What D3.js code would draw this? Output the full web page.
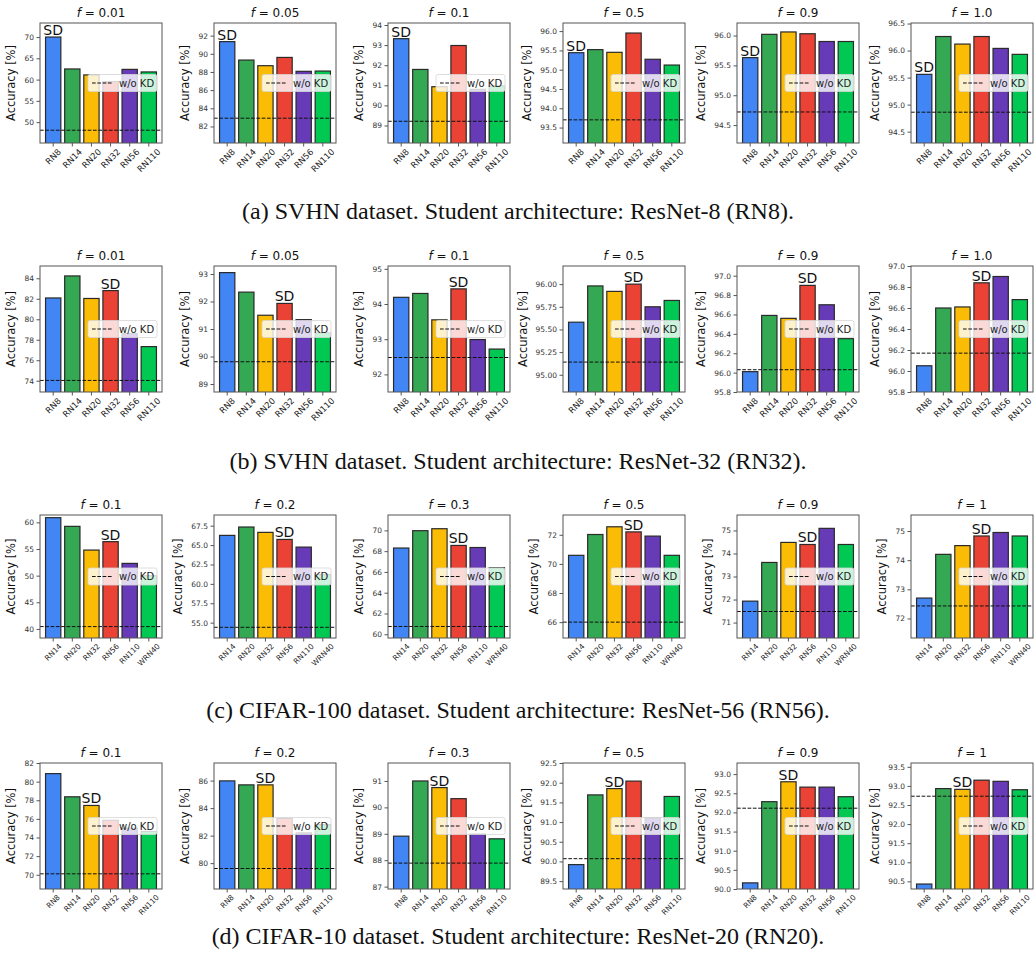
<!DOCTYPE html>
<html>
<head>
<meta charset="utf-8">
<script src="https://cdn.jsdelivr.net/npm/d3@7"></script>
<style>
	html, body { margin: 0; padding: 0; background: #fff; }
	svg { display: block; }
</style>
</head>
<body>
<div id="chart"></div>
<script>
// ---- data ----
const captions = [
	'(a) SVHN dataset. Student architecture: ResNet-8 (RN8).',
	'(b) SVHN dataset. Student architecture: ResNet-32 (RN32).',
	'(c) CIFAR-100 dataset. Student architecture: ResNet-56 (RN56).',
	'(d) CIFAR-10 dataset. Student architecture: ResNet-20 (RN20).'
];
const teachersResNet = ['RN8', 'RN14', 'RN20', 'RN32', 'RN56', 'RN110'];
const teachersCifar100 = ['RN14', 'RN20', 'RN32', 'RN56', 'RN110', 'WRN40'];
const fSvhn = ['0.01', '0.05', '0.1', '0.5', '0.9', '1.0'];
const fCifar = ['0.1', '0.2', '0.3', '0.5', '0.9', '1'];
const studentIndex = [0, 3, 3, 2];

// accuracy per panel, one value per teacher
const accA = [
	[70.0, 62.5, 61.1, 59.5, 62.4, 61.8],
	[91.34, 89.31, 88.69, 89.6, 88.07, 88.1],
	[93.32, 91.79, 90.93, 92.98, 90.8, 90.97],
	[95.44, 95.52, 95.45, 95.95, 95.27, 95.12],
	[95.63, 96.02, 96.06, 96.03, 95.9, 95.9],
	[95.56, 96.26, 96.12, 96.26, 96.04, 95.93]
];
const accB = [
	[82.08, 84.23, 82.03, 82.8, 78.6, 77.33],
	[93.05, 92.34, 91.5, 91.93, 91.34, 90.86],
	[94.19, 94.3, 93.55, 94.43, 92.99, 92.72],
	[95.58, 95.98, 95.92, 96.0, 95.75, 95.82],
	[96.01, 96.59, 96.56, 96.9, 96.7, 96.35],
	[96.05, 96.6, 96.61, 96.84, 96.9, 96.68]
];
const accC = [
	[60.88, 59.25, 54.8, 56.38, 52.3, 50.0],
	[66.25, 67.33, 66.64, 65.73, 64.74, 61.2],
	[68.3, 69.97, 70.16, 68.55, 68.35, 66.4],
	[70.59, 72.02, 72.55, 72.2, 71.91, 70.59],
	[71.93, 73.61, 74.48, 74.39, 75.09, 74.39],
	[72.7, 74.2, 74.5, 74.83, 74.95, 74.83]
];
const accD = [
	[80.86, 78.37, 77.44, 75.85, 75.0, 74.65],
	[85.98, 85.69, 85.69, 83.25, 82.2, 82.8],
	[88.91, 91.0, 90.75, 90.33, 88.99, 88.81],
	[89.92, 91.69, 91.85, 92.04, 91.1, 91.65],
	[90.16, 92.28, 92.8, 92.66, 92.66, 92.41],
	[90.43, 92.93, 92.91, 93.15, 93.12, 92.9]
];
// w/o KD baseline per panel
const baseA = [48.1, 82.91, 89.21, 93.7, 94.72, 94.86];
const baseB = [74.03, 89.81, 92.48, 95.14, 96.03, 96.17];
const baseC = [40.44, 54.4, 60.75, 66.0, 71.48, 72.43];
const baseD = [70.1, 79.61, 87.89, 90.07, 92.11, 92.73];

// y limits and ticks [first, last, step]
const yLimA = [[45.1, 73.3], [80.18, 93.39], [88.13, 94.1], [93.1, 96.21], [94.2, 96.21], [94.29, 96.51]];
const yLimB = [[72.9, 85.2], [88.71, 93.29], [91.5, 95.08], [94.81, 96.2], [95.8, 97.1], [95.8, 97.0]];
const yLimC = [[38.3, 61.38], [53.02, 68.88], [59.64, 71.48], [64.91, 73.36], [70.33, 75.67], [71.33, 75.55]];
const yLimD = [[68.47, 82.0], [78.12, 87.28], [86.91, 91.68], [89.3, 92.5], [90.0, 93.29], [90.3, 93.6]];
const yTickA = [[50, 70, 5], [82, 92, 2], [89, 94, 1], [93.5, 96, 0.5], [94.5, 96, 0.5], [94.5, 96.5, 0.5]];
const yTickB = [[74, 84, 2], [89, 93, 1], [92, 95, 1], [95, 96, 0.25], [95.8, 97, 0.2], [95.8, 97, 0.2]];
const yTickC = [[40, 60, 5], [55, 67.5, 2.5], [60, 70, 2], [66, 72, 2], [71, 75, 1], [72, 75, 1]];
const yTickD = [[70, 82, 2], [80, 86, 2], [87, 91, 1], [89.5, 92.5, 0.5], [90, 93, 0.5], [90.5, 93.5, 0.5]];
const yDigitsA = [0, 0, 0, 1, 1, 1];
const yDigitsB = [0, 0, 0, 2, 1, 1];
const yDigitsC = [0, 1, 0, 0, 0, 0];
const yDigitsD = [0, 0, 0, 1, 1, 1];

const barColors = ['#4285f4', '#34a853', '#fbbc05', '#ea4335', '#673ab7', '#00c853'];

// ---- layout ----
const W = 1034, H = 970;
const panelLefts = [40, 214, 388, 563, 737, 911];
const panelWidth = 122;
const rowTops = [23, 266, 515, 763];
const rowHeights = [120, 126, 123, 126];
const captionY = [219, 469, 718, 944];
const xLabelSize = [8.5, 8.5, 7.5, 7.5];

const rows = [
	{acc: accA, base: baseA, lim: yLimA, ticks: yTickA, digits: yDigitsA, f: fSvhn, teachers: teachersResNet},
	{acc: accB, base: baseB, lim: yLimB, ticks: yTickB, digits: yDigitsB, f: fSvhn, teachers: teachersResNet},
	{acc: accC, base: baseC, lim: yLimC, ticks: yTickC, digits: yDigitsC, f: fCifar, teachers: teachersCifar100},
	{acc: accD, base: baseD, lim: yLimD, ticks: yTickD, digits: yDigitsD, f: fCifar, teachers: teachersResNet}
];

const svg = d3.select('#chart')
	.append('svg')
	.attr('width', W)
	.attr('height', H)
	.style('font-family', '"DejaVu Sans", sans-serif');

svg.append('rect').attr('width', W).attr('height', H).attr('fill', '#fff');

const _drawPanel = (opts) => {
	const {g, w, h, teachers, values, base, lim, tick, digits, fLabel, student, xFont} = opts;

	const x = d3.scaleBand()
		.domain(teachers)
		.range([0, w])
		.paddingInner(0.2)
		.paddingOuter(0.29);
	const y = d3.scaleLinear().domain(lim).range([h, 0]);
	const tickValues = d3.range(tick[0], tick[1] + tick[2] / 2, tick[2]);

	const clip = 'clip-' + Math.random().toString(36).slice(2);
	g.append('clipPath').attr('id', clip)
		.append('rect').attr('width', w).attr('height', h);

	const plot = g.append('g').attr('clip-path', `url(#${clip})`);

	plot.selectAll('.bar')
		.data(values)
		.enter()
		.append('rect')
		.attr('class', 'bar')
		.attr('x', (d, i) => x(teachers[i]))
		.attr('y', d => y(d))
		.attr('width', x.bandwidth())
		.attr('height', d => h - y(d) + 2)
		.attr('fill', (d, i) => barColors[i])
		.attr('stroke', '#2a2a2a')
		.attr('stroke-width', 1.2);

	plot.append('line')
		.attr('x1', 0).attr('x2', w)
		.attr('y1', y(base)).attr('y2', y(base))
		.attr('stroke', '#111')
		.attr('stroke-width', 1)
		.attr('stroke-dasharray', '3.7,1.6');

	// SD marker over the student bar
	g.append('text')
		.attr('x', x(teachers[student]) + x.bandwidth() / 2)
		.attr('y', y(values[student]) - 2)
		.attr('text-anchor', 'middle')
		.attr('font-size', 14)
		.attr('fill', '#111')
		.text('SD');

	// legend
	const lw = 69, lh = 17;
	const leg = g.append('g').attr('transform', `translate(${w - 5 - lw}, ${h / 2 - lh / 2})`);
	leg.append('rect')
		.attr('width', lw).attr('height', lh).attr('rx', 2)
		.attr('fill', '#fff').attr('fill-opacity', 0.8)
		.attr('stroke', '#d6d6d6').attr('stroke-width', 0.8);
	leg.append('line')
		.attr('x1', 4).attr('x2', 24)
		.attr('y1', lh / 2).attr('y2', lh / 2)
		.attr('stroke', '#111').attr('stroke-width', 1)
		.attr('stroke-dasharray', '3.7,1.6');
	leg.append('text')
		.attr('x', 31).attr('y', lh / 2)
		.attr('dominant-baseline', 'central')
		.attr('font-size', 10)
		.attr('fill', '#222')
		.text('w/o KD');

	// frame
	g.append('rect')
		.attr('width', w).attr('height', h)
		.attr('fill', 'none')
		.attr('stroke', '#555')
		.attr('stroke-width', 1);

	// y axis
	const yAxis = g.append('g')
		.call(d3.axisLeft(y)
			.tickValues(tickValues)
			.tickFormat(d3.format(`.${digits}f`))
			.tickSize(3.5)
			.tickPadding(2.5)
			.tickSizeOuter(0));
	yAxis.select('.domain').remove();
	yAxis.selectAll('line').attr('stroke', '#555');
	yAxis.selectAll('text')
		.attr('font-size', 7.5)
		.attr('font-family', '"DejaVu Sans", sans-serif')
		.attr('fill', '#333');
	let maxTickW = 0;
	yAxis.selectAll('text').each(function() {
		maxTickW = Math.max(maxTickW, this.getComputedTextLength());
	});

	// x ticks and rotated labels
	const xTicks = g.append('g').attr('transform', `translate(0, ${h})`);
	xTicks.selectAll('line')
		.data(teachers)
		.enter()
		.append('line')
		.attr('x1', d => x(d) + x.bandwidth() / 2)
		.attr('x2', d => x(d) + x.bandwidth() / 2)
		.attr('y1', 0).attr('y2', 3.5)
		.attr('stroke', '#555');
	xTicks.selectAll('text')
		.data(teachers)
		.enter()
		.append('text')
		.attr('font-size', xFont)
		.attr('fill', '#222')
		.attr('text-anchor', 'middle')
		.attr('dominant-baseline', 'central')
		.text(d => d)
		.each(function(d) {
			const len = this.getComputedTextLength();
			const half = (len + xFont * 0.75) / (2 * Math.SQRT2);
			const cx = x(d) + x.bandwidth() / 2;
			const cy = 5 + half;
			d3.select(this).attr('transform', `translate(${cx}, ${cy}) rotate(-45)`);
		});

	// y label, pushed out past the widest tick label
	g.append('text')
		.attr('transform', `translate(${-(maxTickW + 19)}, ${h / 2}) rotate(-90)`)
		.attr('text-anchor', 'middle')
		.attr('dominant-baseline', 'central')
		.attr('font-size', 11.5)
		.attr('fill', '#111')
		.text('Accuracy [%]');

	// title
	const title = g.append('text')
		.attr('x', w / 2)
		.attr('y', -6)
		.attr('text-anchor', 'middle')
		.attr('font-size', 12)
		.attr('fill', '#111');
	title.append('tspan').attr('font-style', 'italic').text('f');
	title.append('tspan').text(' = ' + fLabel);
};

rows.forEach((row, r) => {
	row.acc.forEach((values, p) => {
		const g = svg.append('g')
			.attr('transform', `translate(${panelLefts[p]}, ${rowTops[r]})`);
		_drawPanel({
			g,
			w: panelWidth,
			h: rowHeights[r],
			teachers: row.teachers,
			values,
			base: row.base[p],
			lim: row.lim[p],
			tick: row.ticks[p],
			digits: row.digits[p],
			fLabel: row.f[p],
			student: studentIndex[r],
			xFont: xLabelSize[r]
		});
	});
	svg.append('text')
		.attr('x', 518)
		.attr('y', captionY[r])
		.attr('text-anchor', 'middle')
		.attr('font-family', '"Liberation Serif", "Times New Roman", serif')
		.attr('font-size', 24)
		.attr('fill', '#111')
		.text(captions[r]);
});
</script>
</body>
</html>
